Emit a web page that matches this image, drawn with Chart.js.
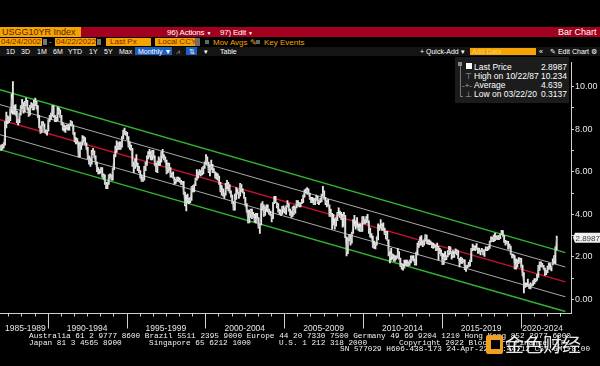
<!DOCTYPE html>
<html>
<head>
<meta charset="utf-8">
<script src="https://cdn.jsdelivr.net/npm/chart.js@4.4.0/dist/chart.umd.min.js"></script>
<style>
html, body { margin: 0; padding: 0; background: #000; width: 600px; height: 366px; overflow: hidden;
  font-family: "Liberation Sans", Arial, sans-serif; }
.t { position: absolute; white-space: nowrap; line-height: 9px; font-size: 8px; color: #fff; }
.ob { position: absolute; background: #f5a300; color: #7a2800; font-size: 8px; line-height: 8px; height: 8px; white-space: nowrap; }
.blk { position: absolute; }
.ft { position: absolute; white-space: pre; font-family: "Liberation Mono", "DejaVu Sans Mono", monospace;
  font-size: 7.73px; line-height: 7px; color: #f2f2f2; }
#wrap { position: absolute; left: 0; top: 56px; width: 600px; height: 280px; }
</style>
</head>
<body>
<!-- header bars -->
<div class="blk" style="left:0;top:27px;width:600px;height:10px;background:#a2001c"></div>
<div class="blk" style="left:0;top:27px;width:81px;height:10px;background:#f5a300"></div>
<div class="t" style="left:2px;top:27.5px;font-size:9px;color:#5a2400">USGG10YR Index</div>
<div class="t" style="left:167px;top:28px;font-size:8px;letter-spacing:-0.2px">96) Actions <span style="font-size:5px">▼</span></div>
<div class="t" style="left:220px;top:28px;font-size:8px;letter-spacing:-0.2px">97) Edit <span style="font-size:5px">▼</span></div>
<div class="t" style="left:558px;top:27.5px;font-size:9px">Bar Chart</div>

<div class="ob" style="left:0;top:38px;width:41px;padding-left:1px">04/24/2002</div>
<div class="blk" style="left:43px;top:39px;width:4px;height:6px;background:#777"></div>
<div class="t" style="left:49px;top:37px;color:#ccc">-</div>
<div class="ob" style="left:55px;top:38px;width:40px;padding-left:1px">04/22/2022</div>
<div class="blk" style="left:97px;top:39px;width:4px;height:6px;background:#777"></div>
<div class="ob" style="left:106px;top:38px;width:41px;padding-left:4px">Last Px</div>
<div class="ob" style="left:155px;top:38px;width:37px;padding-left:3px">Local CCY</div>
<div class="blk" style="left:195px;top:38px;width:5px;height:8px;background:#6e6e6e"></div>
<div class="blk" style="left:205px;top:40px;width:4px;height:4px;background:#666"></div>
<div class="t" style="left:213px;top:37.5px;color:#f5a300">Mov Avgs ✎</div>
<div class="blk" style="left:256px;top:40px;width:4px;height:4px;background:#666"></div>
<div class="t" style="left:264px;top:37.5px;color:#f5a300">Key Events</div>

<div class="blk" style="left:0;top:47px;width:600px;height:9px;background:#141414"></div>
<div class="t" style="left:6px;top:47px;font-size:7px">1D</div>
<div class="t" style="left:21px;top:47px;font-size:7px">3D</div>
<div class="t" style="left:37px;top:47px;font-size:7px">1M</div>
<div class="t" style="left:53px;top:47px;font-size:7px">6M</div>
<div class="t" style="left:68px;top:47px;font-size:7px">YTD</div>
<div class="t" style="left:89px;top:47px;font-size:7px">1Y</div>
<div class="t" style="left:104px;top:47px;font-size:7px">5Y</div>
<div class="t" style="left:119px;top:47px;font-size:7px">Max</div>
<div class="blk" style="left:135px;top:47px;width:37px;height:8px;background:#1d5fbf"></div>
<div class="t" style="left:138px;top:47px;font-size:7px">Monthly ▼</div>
<div class="t" style="left:176px;top:47px;font-size:7px;color:#aaa">⩘</div>
<div class="blk" style="left:186px;top:47px;width:11px;height:8px;background:#1d5fbf"></div>
<div class="t" style="left:189px;top:47px;font-size:7px">⇅</div>
<div class="t" style="left:204px;top:47px;font-size:7px">▾</div>
<div class="t" style="left:220px;top:47px;font-size:7px">Table</div>
<div class="t" style="left:420px;top:47px;font-size:7px">+ Quick-Add ▾</div>
<div class="blk" style="left:470px;top:47.5px;width:66px;height:7.5px;background:#f5a300"></div>
<div class="t" style="left:472px;top:47px;font-size:7px;color:#ffd060">Add Data</div>
<div class="t" style="left:539px;top:47px;font-size:7px">«</div>
<div class="t" style="left:550px;top:47px;font-size:7px">✎ Edit Chart</div>
<div class="t" style="left:591px;top:47px;font-size:7px">⚙</div>

<div id="wrap"><canvas id="yieldChart" width="600" height="280"></canvas></div>

<!-- legend box -->
<div class="blk" style="left:455px;top:57px;width:114px;height:46px;background:#1c1c1c"></div>
<div class="blk" style="left:458px;top:62px;width:4px;height:4px;background:#8a8a8a"></div>
<div class="blk" style="left:460px;top:66px;width:1px;height:30px;background:#777"></div>
<div class="blk" style="left:460px;top:96px;width:3px;height:1px;background:#777"></div>
<div class="blk" style="left:466px;top:63px;width:6px;height:6px;background:#fff"></div>
<div class="t" style="left:474px;top:63px;font-size:8.5px">Last Price</div>
<div class="t" style="left:541px;top:63px;font-size:8.5px">2.8987</div>
<div class="t" style="left:465px;top:72px;font-size:8px;color:#aaa">⊤</div>
<div class="t" style="left:474px;top:72px;font-size:8.5px">High on 10/22/87</div>
<div class="t" style="left:541px;top:72px;font-size:8.5px">10.234</div>
<div class="t" style="left:462px;top:80.5px;font-size:8px;color:#aaa">-+-</div>
<div class="t" style="left:474px;top:81px;font-size:8.5px">Average</div>
<div class="t" style="left:541px;top:81px;font-size:8.5px">4.639</div>
<div class="t" style="left:465px;top:90px;font-size:8px;color:#aaa">⊥</div>
<div class="t" style="left:474px;top:90px;font-size:8.5px">Low on 03/22/20</div>
<div class="t" style="left:541px;top:90px;font-size:8.5px">0.3137</div>

<!-- footer -->
<div class="ft" style="left:29px;top:333px">Australia 61 2 9777 8600 Brazil 5511 2395 9000 Europe 44 20 7330 7500 Germany 49 69 9204 1210 Hong Kong 852 2977 6000</div>
<div class="ft" style="left:29px;top:339.5px">Japan 81 3 4565 8900</div>
<div class="ft" style="left:149px;top:339.5px">Singapore 65 6212 1000</div>
<div class="ft" style="left:279px;top:339.5px">U.S. 1 212 318 2000</div>
<div class="ft" style="left:399px;top:339.5px">Copyright 2022 Bloomberg Finance L.P.</div>
<div class="ft" style="left:340px;top:346px">SN 577029 H606-438-173 24-Apr-22 21:44:12 CST GMT+8:00</div>
<div class="blk" style="left:486px;top:335px;width:17px;height:19px;background:#f0a020;border-radius:2px"></div>
<div class="blk" style="left:491px;top:340px;width:9px;height:9px;background:#000"></div>
<div class="t" style="left:505px;top:333px;font-size:19px;line-height:22px;font-family:'Noto Sans CJK SC',sans-serif;color:rgba(255,255,255,0.9)">金色财经</div>

<script>
// USGG10YR monthly bars, Jan 1987 .. Apr 2022
const startYear = 1987;
const monthlyClose = [
  7.08, 7.25, 7.25, 8.02, 8.61, 8.40, 8.45, 8.76, 9.42, 8.89, 8.90, 8.83,
  8.38, 8.30, 8.67, 9.05, 9.21, 8.85, 9.18, 9.30, 8.96, 8.69, 9.08, 9.14,
  8.95, 9.28, 9.27, 9.05, 8.60, 8.12, 7.84, 8.27, 8.23, 7.90, 7.82, 7.93,
  8.43, 8.54, 8.67, 9.05, 8.61, 8.42, 8.45, 8.86, 8.83, 8.63, 8.26, 8.07,
  8.09, 8.05, 8.14, 8.08, 8.19, 8.32, 8.20, 7.81, 7.45, 7.46, 7.38, 6.70,
  7.29, 7.27, 7.55, 7.54, 7.28, 7.12, 6.63, 6.60, 6.36, 6.87, 6.95, 6.70,
  6.39, 6.03, 6.03, 6.05, 6.16, 5.78, 5.81, 5.45, 5.38, 5.43, 5.82, 5.79,
  5.64, 6.13, 6.74, 7.04, 7.15, 7.32, 7.11, 7.17, 7.60, 7.81, 7.91, 7.82,
  7.59, 7.20, 7.20, 7.06, 6.28, 6.20, 6.45, 6.28, 6.17, 6.03, 5.74, 5.57,
  5.59, 6.10, 6.33, 6.67, 6.85, 6.73, 6.80, 6.96, 6.70, 6.34, 6.04, 6.42,
  6.49, 6.55, 6.90, 6.72, 6.66, 6.50, 5.95, 6.34, 6.11, 5.83, 5.87, 5.74,
  5.51, 5.62, 5.65, 5.67, 5.55, 5.45, 5.49, 4.98, 4.42, 4.61, 4.71, 4.65,
  4.65, 5.29, 5.24, 5.35, 5.62, 5.78, 5.90, 5.97, 5.88, 6.02, 6.19, 6.44,
  6.66, 6.41, 6.00, 6.21, 6.27, 6.03, 6.03, 5.72, 5.80, 5.75, 5.47, 5.11,
  5.11, 4.90, 4.92, 5.34, 5.38, 5.41, 5.05, 4.83, 4.59, 4.23, 4.75, 5.05,
  5.03, 4.87, 5.40, 5.09, 5.04, 4.80, 4.46, 4.14, 3.60, 3.89, 4.21, 3.82,
  3.96, 3.69, 3.80, 3.84, 3.37, 3.52, 4.41, 4.46, 3.94, 4.29, 4.33, 4.25,
  4.13, 3.97, 3.84, 4.51, 4.65, 4.58, 4.47, 4.12, 4.12, 4.02, 4.35, 4.22,
  4.13, 4.36, 4.48, 4.20, 3.98, 3.92, 4.28, 4.02, 4.32, 4.56, 4.49, 4.39,
  4.52, 4.55, 4.85, 5.05, 5.11, 5.14, 4.98, 4.73, 4.63, 4.60, 4.46, 4.70,
  4.83, 4.56, 4.64, 4.63, 4.89, 5.02, 4.74, 4.53, 4.58, 4.47, 3.94, 4.02,
  3.59, 3.51, 3.41, 3.73, 4.06, 3.97, 3.95, 3.81, 3.83, 3.95, 2.92, 2.21,
  2.84, 3.01, 2.66, 3.12, 3.46, 3.53, 3.48, 3.40, 3.31, 3.39, 3.20, 3.84,
  3.58, 3.61, 3.83, 3.65, 3.29, 2.93, 2.91, 2.47, 2.51, 2.60, 2.80, 3.29,
  3.37, 3.42, 3.45, 3.29, 3.05, 3.16, 2.80, 2.22, 1.92, 2.11, 2.07, 1.88,
  1.80, 1.97, 2.21, 1.91, 1.56, 1.64, 1.47, 1.55, 1.63, 1.69, 1.61, 1.76,
  1.98, 1.88, 1.85, 1.67, 2.13, 2.49, 2.58, 2.78, 2.61, 2.55, 2.74, 3.03,
  2.64, 2.65, 2.72, 2.64, 2.47, 2.53, 2.56, 2.34, 2.49, 2.34, 2.16, 2.17,
  1.64, 2.00, 1.92, 2.03, 2.12, 2.35, 2.18, 2.22, 2.04, 2.14, 2.21, 2.27,
  1.92, 1.73, 1.77, 1.83, 1.85, 1.47, 1.45, 1.58, 1.59, 1.83, 2.38, 2.44,
  2.45, 2.39, 2.39, 2.28, 2.20, 2.30, 2.29, 2.12, 2.33, 2.38, 2.41, 2.41,
  2.71, 2.86, 2.74, 2.95, 2.86, 2.86, 2.96, 2.86, 3.06, 3.14, 2.99, 2.68,
  2.63, 2.72, 2.41, 2.50, 2.12, 2.00, 2.01, 1.50, 1.66, 1.69, 1.78, 1.92,
  1.51, 1.15, 0.67, 0.64, 0.65, 0.66, 0.53, 0.70, 0.68, 0.87, 0.84, 0.91,
  1.07, 1.40, 1.74, 1.63, 1.58, 1.47, 1.22, 1.31, 1.49, 1.55, 1.44, 1.51,
  1.78, 1.83, 2.34, 2.90
];
const monthlyLow = [
  7.00, 7.05, 7.12, 7.25, 8.05, 8.25, 8.30, 8.40, 8.75, 8.70, 8.70, 8.65,
  8.30, 8.20, 8.30, 8.65, 8.95, 8.75, 8.80, 9.10, 8.90, 8.60, 8.65, 9.00,
  8.90, 8.90, 9.10, 8.95, 8.55, 8.05, 7.80, 7.85, 8.15, 7.85, 7.80, 7.72,
  7.90, 8.35, 8.45, 8.60, 8.55, 8.35, 8.35, 8.40, 8.70, 8.55, 8.20, 7.95,
  7.90, 7.85, 8.00, 7.95, 7.95, 8.15, 8.15, 7.75, 7.40, 7.30, 7.30, 6.70,
  6.70, 7.05, 7.25, 7.40, 7.25, 7.05, 6.60, 6.35, 6.25, 6.35, 6.80, 6.65,
  6.35, 6.00, 5.90, 5.90, 5.95, 5.75, 5.65, 5.40, 5.20, 5.20, 5.40, 5.70,
  5.60, 5.60, 6.10, 6.70, 6.90, 7.05, 7.05, 7.05, 7.15, 7.55, 7.75, 7.70,
  7.50, 7.15, 7.05, 7.00, 6.25, 5.95, 6.15, 6.25, 6.05, 5.95, 5.70, 5.55,
  5.55, 5.60, 6.05, 6.30, 6.60, 6.70, 6.55, 6.55, 6.65, 6.30, 6.00, 5.95,
  6.30, 6.30, 6.45, 6.65, 6.55, 6.45, 5.90, 5.95, 6.05, 5.75, 5.75, 5.70,
  5.40, 5.45, 5.55, 5.55, 5.50, 5.40, 5.40, 4.95, 4.40, 4.16, 4.55, 4.50,
  4.55, 4.65, 5.05, 5.05, 5.35, 5.60, 5.70, 5.85, 5.80, 5.85, 5.90, 6.15,
  6.35, 6.30, 5.95, 5.80, 6.10, 5.95, 5.95, 5.70, 5.65, 5.60, 5.40, 5.05,
  4.90, 4.85, 4.75, 4.90, 5.20, 5.10, 5.00, 4.80, 4.50, 4.20, 4.20, 4.70,
  4.95, 4.75, 4.85, 5.05, 5.00, 4.75, 4.40, 4.10, 3.60, 3.60, 3.85, 3.80,
  3.85, 3.65, 3.60, 3.80, 3.35, 3.10, 3.50, 4.20, 3.90, 3.95, 4.15, 4.10,
  4.00, 3.95, 3.65, 3.80, 4.50, 4.55, 4.30, 4.10, 4.00, 3.95, 4.00, 4.10,
  4.05, 4.00, 4.35, 4.15, 3.95, 3.85, 3.90, 4.00, 4.05, 4.30, 4.40, 4.35,
  4.35, 4.50, 4.55, 4.80, 5.00, 4.95, 4.95, 4.70, 4.55, 4.55, 4.45, 4.45,
  4.65, 4.50, 4.45, 4.55, 4.60, 4.85, 4.70, 4.45, 4.35, 4.40, 3.90, 3.90,
  3.30, 3.50, 3.30, 3.45, 3.70, 3.95, 3.85, 3.75, 3.40, 3.45, 2.90, 2.05,
  2.15, 2.75, 2.55, 2.65, 3.10, 3.45, 3.30, 3.40, 3.25, 3.20, 3.20, 3.20,
  3.55, 3.55, 3.60, 3.65, 3.10, 2.93, 2.88, 2.45, 2.40, 2.38, 2.55, 2.80,
  3.25, 3.35, 3.25, 3.25, 3.05, 2.85, 2.78, 2.05, 1.72, 1.85, 1.90, 1.80,
  1.80, 1.90, 1.95, 1.90, 1.55, 1.43, 1.38, 1.47, 1.60, 1.58, 1.58, 1.60,
  1.72, 1.85, 1.80, 1.63, 1.62, 2.10, 2.45, 2.55, 2.55, 2.48, 2.55, 2.75,
  2.62, 2.60, 2.58, 2.58, 2.43, 2.40, 2.45, 2.30, 2.32, 1.86, 2.15, 2.05,
  1.64, 1.65, 1.85, 1.87, 2.00, 2.10, 2.15, 1.90, 1.98, 1.98, 2.15, 2.10,
  1.92, 1.53, 1.70, 1.70, 1.75, 1.40, 1.32, 1.50, 1.53, 1.58, 1.78, 2.30,
  2.33, 2.30, 2.35, 2.17, 2.18, 2.10, 2.25, 2.10, 2.03, 2.30, 2.30, 2.33,
  2.40, 2.70, 2.73, 2.72, 2.76, 2.82, 2.82, 2.81, 2.86, 3.05, 2.97, 2.68,
  2.55, 2.62, 2.37, 2.41, 2.12, 1.95, 1.97, 1.44, 1.43, 1.52, 1.69, 1.76,
  1.51, 1.11, 0.31, 0.57, 0.60, 0.63, 0.52, 0.50, 0.63, 0.66, 0.74, 0.83,
  0.90, 1.04, 1.37, 1.53, 1.53, 1.43, 1.13, 1.17, 1.26, 1.43, 1.42, 1.34,
  1.63, 1.72, 1.67, 2.33
];
const monthlyHigh = [
  7.25, 7.28, 7.35, 8.35, 8.80, 8.62, 8.58, 8.95, 9.65, 10.23, 9.10, 9.15,
  8.85, 8.45, 8.75, 9.10, 9.40, 9.25, 9.30, 9.45, 9.35, 9.00, 9.12, 9.25,
  9.20, 9.35, 9.45, 9.30, 9.10, 8.65, 8.15, 8.35, 8.35, 8.25, 7.95, 7.95,
  8.45, 8.65, 8.75, 9.10, 9.10, 8.65, 8.55, 9.05, 9.00, 8.90, 8.65, 8.30,
  8.20, 8.15, 8.20, 8.20, 8.25, 8.40, 8.35, 8.20, 7.85, 7.60, 7.55, 7.40,
  7.35, 7.40, 7.70, 7.65, 7.60, 7.35, 7.15, 6.75, 6.65, 7.00, 7.10, 6.98,
  6.75, 6.45, 6.20, 6.10, 6.20, 6.20, 5.90, 5.85, 5.50, 5.50, 5.85, 5.90,
  5.85, 6.15, 6.80, 7.20, 7.45, 7.35, 7.40, 7.40, 7.65, 7.95, 8.05, 7.90,
  7.85, 7.65, 7.40, 7.25, 7.10, 6.45, 6.60, 6.80, 6.40, 6.25, 6.05, 5.85,
  5.75, 6.25, 6.45, 6.75, 6.95, 7.05, 6.95, 7.00, 7.00, 6.75, 6.40, 6.50,
  6.70, 6.60, 6.95, 7.05, 6.80, 6.70, 6.55, 6.40, 6.40, 6.20, 5.95, 6.00,
  5.75, 5.65, 5.75, 5.75, 5.70, 5.60, 5.55, 5.55, 5.05, 4.90, 4.95, 4.75,
  4.80, 5.30, 5.35, 5.40, 5.70, 6.10, 6.00, 6.10, 6.05, 6.20, 6.25, 6.45,
  6.80, 6.70, 6.45, 6.30, 6.55, 6.35, 6.15, 6.00, 5.95, 5.90, 5.80, 5.50,
  5.35, 5.20, 5.00, 5.45, 5.60, 5.50, 5.40, 5.10, 4.90, 4.60, 4.95, 5.25,
  5.20, 5.05, 5.45, 5.40, 5.20, 5.05, 4.80, 4.50, 4.20, 4.20, 4.25, 4.25,
  4.10, 4.00, 4.05, 4.05, 3.85, 3.55, 4.50, 4.60, 4.45, 4.35, 4.45, 4.45,
  4.25, 4.15, 4.00, 4.55, 4.85, 4.85, 4.55, 4.50, 4.25, 4.20, 4.38, 4.40,
  4.30, 4.40, 4.65, 4.50, 4.25, 4.15, 4.35, 4.40, 4.35, 4.65, 4.65, 4.55,
  4.55, 4.70, 4.90, 5.15, 5.20, 5.25, 5.20, 5.00, 4.80, 4.80, 4.75, 4.75,
  4.90, 4.85, 4.65, 4.75, 4.95, 5.32, 5.10, 4.80, 4.65, 4.70, 4.45, 4.25,
  4.05, 4.00, 3.80, 3.85, 4.10, 4.30, 4.15, 4.10, 4.00, 4.10, 3.95, 2.95,
  2.90, 3.05, 3.05, 3.15, 3.75, 3.95, 3.70, 3.85, 3.55, 3.55, 3.55, 3.90,
  3.90, 3.75, 3.90, 4.00, 3.70, 3.35, 3.10, 2.98, 2.75, 2.65, 2.95, 3.55,
  3.50, 3.75, 3.55, 3.60, 3.35, 3.20, 3.20, 2.80, 2.25, 2.40, 2.15, 2.10,
  2.05, 2.05, 2.40, 2.25, 1.95, 1.70, 1.65, 1.85, 1.85, 1.85, 1.77, 1.85,
  2.05, 2.05, 2.07, 1.90, 2.23, 2.65, 2.75, 2.95, 3.00, 2.75, 2.80, 3.05,
  3.03, 2.80, 2.80, 2.75, 2.68, 2.65, 2.60, 2.55, 2.65, 2.50, 2.40, 2.33,
  2.17, 2.15, 2.25, 2.05, 2.30, 2.50, 2.48, 2.25, 2.30, 2.25, 2.38, 2.33,
  2.30, 1.92, 2.00, 1.95, 1.88, 1.87, 1.60, 1.62, 1.75, 1.85, 2.40, 2.60,
  2.52, 2.52, 2.63, 2.42, 2.42, 2.32, 2.40, 2.32, 2.35, 2.47, 2.45, 2.50,
  2.74, 2.95, 2.93, 3.03, 3.12, 2.99, 3.00, 3.00, 3.09, 3.25, 3.24, 3.02,
  2.78, 2.74, 2.73, 2.60, 2.51, 2.14, 2.14, 2.06, 1.91, 1.86, 1.97, 1.95,
  1.94, 1.62, 1.27, 0.78, 0.77, 0.96, 0.70, 0.78, 0.73, 0.89, 0.98, 0.98,
  1.19, 1.61, 1.77, 1.77, 1.70, 1.61, 1.48, 1.37, 1.57, 1.70, 1.69, 1.55,
  1.91, 2.06, 2.48, 2.98
];

// regression channel (start / end of the drawn lines)
const channelX = [1986.97, 2022.84];
const channelMid = [8.44, 0.83];
const channelUp1 = [9.15, 1.53];
const channelDn1 = [7.74, 0.13];
const channelUp2 = [9.85, 2.20];
const channelDn2 = [7.04, -0.56];

const yTickValues = [0, 1, 2, 3, 4, 5, 6, 7, 8, 9, 10];
const periodStarts = [1985, 1990, 1995, 2000, 2005, 2010, 2015, 2020];
const periodLabels = ['1985-1989', '1990-1994', '1995-1999', '2000-2004',
                      '2005-2009', '2010-2014', '2015-2019', '2020-2024'];
const lastPrice = 2.8987;

const monthX = i => startYear + (i + 0.5) / 12;

function channelLine(values, color, width) {
    return {
        type: 'line',
        data: channelX.map((x, i) => ({ x: x, y: values[i] })),
        borderColor: color,
        borderWidth: width,
        pointRadius: 0,
    };
}

// bottom time axis + last price tag
const bbgAxisPlugin = {
    id: 'bbgAxis',
    afterDraw(chart) {
        const { ctx, chartArea, scales } = chart;
        const x = scales.x, y = scales.y;
        const yb = chartArea.bottom + 0.5;
        ctx.save();
        ctx.strokeStyle = '#cfcfcf';
        ctx.lineWidth = 1;
        ctx.beginPath();
        ctx.moveTo(chartArea.left, yb);
        ctx.lineTo(chartArea.right, yb);
        ctx.stroke();

        // small ticks (6 per period) and period separators
        periodStarts.forEach(start => {
            for (let k = 0; k < 6; k++) {
                const px = Math.round(x.getPixelForValue(start + k * 5 / 6)) + 0.5;
                if (px < chartArea.left || px > chartArea.right) continue;
                ctx.beginPath();
                ctx.moveTo(px, yb);
                ctx.lineTo(px, yb + (k === 0 ? 15 : 3));
                ctx.stroke();
            }
        });

        ctx.fillStyle = '#e6e6e6';
        ctx.font = '8.5px "Liberation Sans", Arial, sans-serif';
        ctx.textAlign = 'center';
        ctx.textBaseline = 'middle';
        periodStarts.forEach((start, i) => {
            const w = ctx.measureText(periodLabels[i]).width;
            let cx = x.getPixelForValue(start + 2.5);
            cx = Math.max(cx, chartArea.left + 5 + w / 2);
            cx = Math.min(cx, chartArea.right - 8 - w / 2);
            ctx.fillText(periodLabels[i], cx, yb + 15.5);
        });

        // last price tag on the right axis
        const py = y.getPixelForValue(lastPrice);
        ctx.fillStyle = '#efefef';
        ctx.beginPath();
        ctx.moveTo(chartArea.right + 2, py);
        ctx.lineTo(chartArea.right + 4, py - 5);
        ctx.lineTo(600, py - 5);
        ctx.lineTo(600, py + 5);
        ctx.lineTo(chartArea.right + 4, py + 5);
        ctx.closePath();
        ctx.fill();
        ctx.fillStyle = '#3a3a3a';
        ctx.textAlign = 'left';
        ctx.font = '8px "Liberation Sans", Arial, sans-serif';
        ctx.fillText(lastPrice.toFixed(4), chartArea.right + 4.5, py + 0.5);
        ctx.restore();
    }
};

const ctx = document.getElementById('yieldChart').getContext('2d');
new Chart(ctx, {
    type: 'bar',
    data: {
        datasets: [
            {
                type: 'line',
                data: monthlyClose.map((c, i) => ({ x: monthX(i), y: c })),
                borderColor: '#bdbdbd',
                borderWidth: 0.8,
                pointRadius: 0,
            },
            {
                type: 'bar',
                data: monthlyHigh.map((h, i) => ({ x: monthX(i), y: [monthlyLow[i], h] })),
                backgroundColor: '#e6e6e6',
                borderWidth: 0,
                barThickness: 1.2,
                grouped: false,
            },
            channelLine(channelUp2, '#31b531', 1.4),
            channelLine(channelUp1, '#a9a9a9', 1),
            channelLine(channelMid, '#c4122c', 1.5),
            channelLine(channelDn1, '#a9a9a9', 1),
            channelLine(channelDn2, '#31b531', 1.4),
        ],
    },
    options: {
        responsive: false,
        animation: false,
        layout: { padding: { top: 1, bottom: 23, left: 0, right: 0 } },
        plugins: {
            legend: { display: false },
            tooltip: { enabled: false },
        },
        scales: {
            x: {
                type: 'linear',
                min: 1986.973,
                max: 2023.197,
                offset: false,
                display: false,
            },
            y: {
                position: 'right',
                min: -0.63,
                max: 11.13,
                afterBuildTicks: scale => { scale.ticks = yTickValues.map(v => ({ value: v })); },
                afterFit: scale => { scale.width = 29; },
                ticks: {
                    color: '#e8e8e8',
                    padding: 1,
                    font: { size: 9, family: '"Liberation Sans", Arial, sans-serif' },
                    callback: v => (v % 2 === 0 ? v.toFixed(2) : ''),
                },
                grid: { drawOnChartArea: false, drawTicks: true, tickLength: 3, color: '#d0d0d0' },
                border: { display: true, color: '#d0d0d0' },
            },
        },
    },
    plugins: [bbgAxisPlugin],
});
</script>
</body>
</html>
